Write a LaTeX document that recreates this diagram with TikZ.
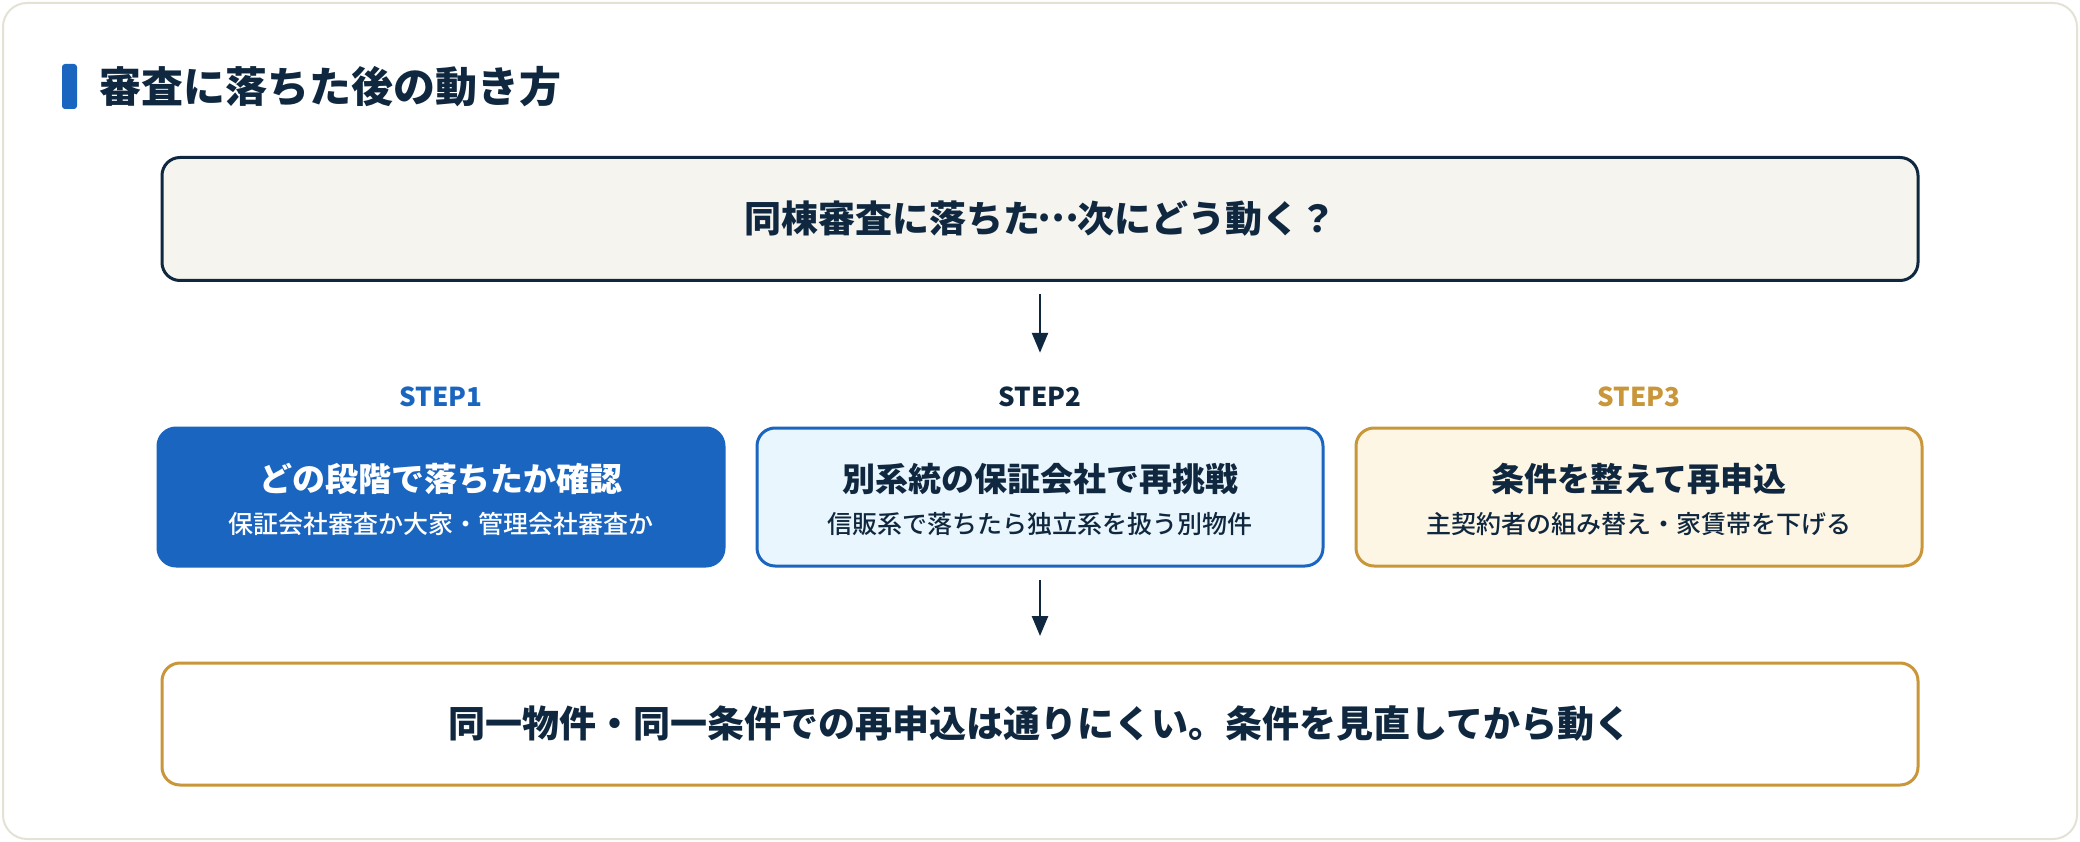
\documentclass[tikz,border=0pt]{standalone}
\usepackage{fontspec}
\setmainfont{Noto Sans CJK JP}
\newfontfamily\jpmedium{Noto Sans CJK JP Medium}
\usepackage{tikz}
\usetikzlibrary{arrows.meta,positioning,calc}

\definecolor{navy}{HTML}{10283F}
\definecolor{paper}{HTML}{F5F4EF}
\definecolor{cardline}{HTML}{E4E1D5}
\definecolor{stepblue}{HTML}{1A65C0}
\definecolor{iceblue}{HTML}{EAF6FD}
\definecolor{gold}{HTML}{C9963A}
\definecolor{cream}{HTML}{FEF6E5}

\newcommand\fsz[1]{\fontsize{#1}{#1}\selectfont}
\newcommand\cjkdots{\makebox[1em]{\raisebox{0.3em}{…}}}

\begin{document}
\begin{tikzpicture}[
    x=1pt, y=-1pt,
    bigbox/.style={rectangle, rounded corners=18pt, line width=3pt, outer sep=0pt,
        minimum width=1756pt, minimum height=123pt, text=navy, font=\fsz{37}\bfseries},
    stepbox/.style={rectangle, rounded corners=18pt, line width=3pt, outer sep=0pt,
        minimum width=566pt, minimum height=138pt},
    steplabel/.style={font=\fsz{26}\bfseries, inner sep=0pt},
    stepmain/.style={font=\fsz{33}\bfseries, inner sep=0pt},
    stepsub/.style={font=\fsz{25}\jpmedium, inner sep=0pt},
    flow/.style={-{Triangle[width=16pt,length=20pt]}, line width=2.6pt, draw=navy}
]
    % card and title
    \useasboundingbox (0,0) rectangle (2080,842);
    \draw[cardline, fill=white, line width=2pt, rounded corners=24pt] (3,3) rectangle (2077,839);
    \fill[stepblue, rounded corners=3pt] (62,64) rectangle (77,109);
    \node[anchor=west, inner sep=0pt, text=navy, font=\fsz{42}\bfseries] (title) at (99,87) {審査に落ちた後の動き方};

    % question
    \node[bigbox, draw=navy, fill=paper] (question) at (1040,219) {同棟審査に落ちた\cjkdots 次にどう動く？};

    % steps
    \node[stepbox, draw=stepblue, fill=iceblue] (step2) at (1040,497) {};
    \node[stepbox, draw=stepblue, fill=stepblue, left=33pt of step2] (step1) {};
    \node[stepbox, draw=gold, fill=cream, right=33pt of step2] (step3) {};

    \node[steplabel, text=stepblue] (lab1) at ([yshift=31pt]step1.north) {STEP1};
    \node[steplabel, text=navy] (lab2) at ([yshift=31pt]step2.north) {STEP2};
    \node[steplabel, text=gold] (lab3) at ([yshift=31pt]step3.north) {STEP3};

    \node[stepmain, text=white] (main1) at ([yshift=18pt]step1.center) {どの段階で落ちたか確認};
    \node[stepsub, text=white] (sub1) at ([yshift=-27pt]step1.center) {保証会社審査か大家・管理会社審査か};
    \node[stepmain, text=navy] (main2) at ([yshift=18pt]step2.center) {別系統の保証会社で再挑戦};
    \node[stepsub, text=navy] (sub2) at ([yshift=-27pt]step2.center) {信販系で落ちたら独立系を扱う別物件};
    \node[stepmain, text=navy] (main3) at ([yshift=18pt]step3.center) {条件を整えて再申込};
    \node[stepsub, text=navy] (sub3) at ([yshift=-27pt]step3.center) {主契約者の組み替え・家賃帯を下げる};

    % conclusion
    \node[bigbox, draw=gold, fill=white, minimum height=122pt] (advice) at (1040,724) {同一物件・同一条件での再申込は通りにくい。条件を見直してから動く};

    \draw[flow, shorten <=14pt, shorten >=34pt] (question.south) -- (lab2.north);
    \draw[flow, shorten <=14pt, shorten >=27pt] (step2.south) -- (advice.north);
\end{tikzpicture}
\end{document}
